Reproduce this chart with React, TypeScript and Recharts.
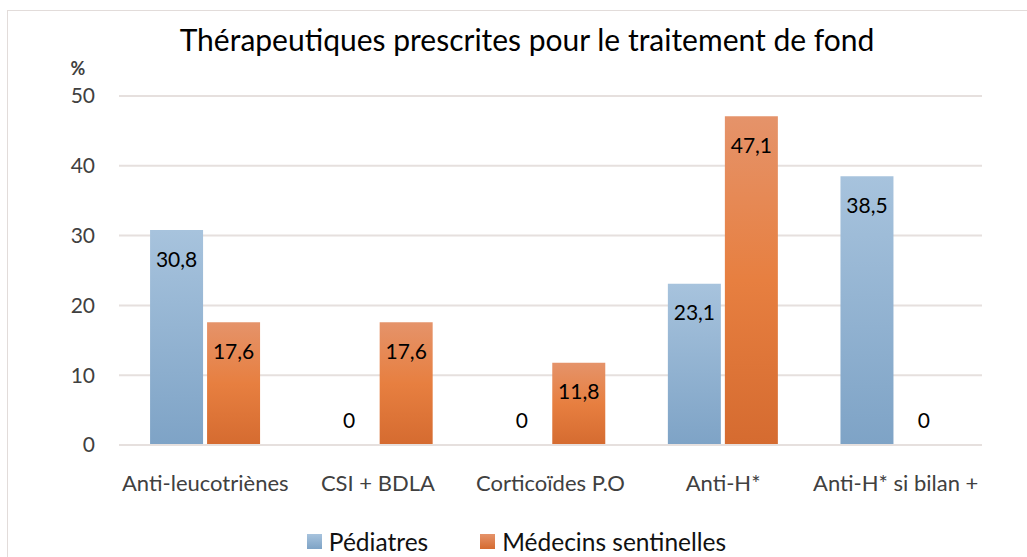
import { BarChart, Bar, XAxis, YAxis, CartesianGrid, Legend, Label, Rectangle } from "recharts"

const categories = ["Anti-leucotriènes", "CSI + BDLA", "Corticoïdes P.O", "Anti-H*", "Anti-H* si bilan +"]
const pediatres = [30.8, 0, 0, 23.1, 38.5]
const medecins = [17.6, 17.6, 11.8, 47.1, 0]
const yTicks = [0, 10, 20, 30, 40, 50]

const data = categories.map((name, i) => ({ name, pediatres: pediatres[i], medecins: medecins[i] }))

const FONT = "Lato, 'Open Sans', sans-serif"

const fmt = (v: number) => String(v).replace(".", ",")

// draws the bar and its value label (also for zero-height bars)
function makeShape(key: "pediatres" | "medecins") {
  return (props: any) => {
    const { x, y, width, height, fill, payload } = props
    const value = payload[key]
    const cx = x + width / 2
    const base = y + height
    const ty = value === 0 ? base - 26 : y + 28
    return (
      <g>
        {height > 0 && <Rectangle x={x} y={y} width={width} height={height} fill={fill} />}
        <text x={cx} y={ty} textAnchor="middle" dominantBaseline="central" fontSize={21} fill="#000" fontFamily={FONT}>
          {fmt(value)}
        </text>
      </g>
    )
  }
}

function LegendContent() {
  const items = [
    { label: "Pédiatres", bg: "linear-gradient(#a7c3dd, #7ea3c6)" },
    { label: "Médecins sentinelles", bg: "linear-gradient(#e5936a, #d56b30)" },
  ]
  return (
    <div style={{ display: "flex", justifyContent: "center", alignItems: "center", gap: 52, paddingLeft: 51, fontFamily: FONT }}>
      {items.map((it) => (
        <div key={it.label} style={{ display: "flex", alignItems: "center", gap: 7 }}>
          <span style={{ width: 15, height: 15, background: it.bg, display: "inline-block" }} />
          <span style={{ fontSize: 24.5, color: "#111" }}>{it.label}</span>
        </div>
      ))}
    </div>
  )
}

export default function App() {
  return (
    <div style={{ position: "absolute", left: 0, top: 0, width: 1027, height: 557, overflow: "hidden", background: "#fff" }}>
      <div style={{ position: "absolute", left: 7, top: 10, width: 1100, height: 600, border: "1px solid #e2dcda" }} />
      <div
        style={{
          position: "absolute",
          left: 0,
          width: 1054,
          top: 21,
          textAlign: "center",
          fontFamily: FONT,
          fontSize: 30,
          color: "#000",
        }}
      >
        Thérapeutiques prescrites pour le traitement de fond
      </div>
      <BarChart
        width={1027}
        height={557}
        data={data}
        margin={{ top: 96, right: 45, left: 0, bottom: 0 }}
        barGap={4}
        barCategoryGap="18%"
        style={{ position: "absolute", left: 0, top: 0 }}
      >
        <defs>
          <linearGradient id="gBlue" x1="0" y1="0" x2="0" y2="1">
            <stop offset="0%" stopColor="#a7c3dd" />
            <stop offset="100%" stopColor="#7ea3c6" />
          </linearGradient>
          <linearGradient id="gOrange" x1="0" y1="0" x2="0" y2="1">
            <stop offset="0%" stopColor="#e5936a" />
            <stop offset="50%" stopColor="#e77f40" />
            <stop offset="100%" stopColor="#d56b30" />
          </linearGradient>
        </defs>
        <CartesianGrid vertical={false} stroke="#e6e0de" strokeWidth={2} />
        <XAxis
          dataKey="name"
          height={82}
          tickLine={false}
          axisLine={{ stroke: "#e6e0de", strokeWidth: 2 }}
          tickMargin={24}
          tick={{ fontSize: 22, fill: "#404040", fontFamily: FONT }}
          interval={0}
        />
        <YAxis
          width={119}
          domain={[0, 50]}
          ticks={yTicks}
          tickLine={false}
          axisLine={false}
          tickMargin={18}
          tick={{ fontSize: 21, fill: "#404040", fontFamily: FONT }}
        >
          <Label
            content={(p: any) => (
              <text x={78} y={p.viewBox.y - 28} textAnchor="middle" dominantBaseline="central" fontSize={18} fontWeight="bold" fill="#404040" fontFamily={FONT}>
                %
              </text>
            )}
          />
        </YAxis>
        <Legend verticalAlign="bottom" height={30} content={<LegendContent />} />
        <Bar dataKey="pediatres" name="Pédiatres" fill="url(#gBlue)" isAnimationActive={false} shape={makeShape("pediatres")} />
        <Bar dataKey="medecins" name="Médecins sentinelles" fill="url(#gOrange)" isAnimationActive={false} shape={makeShape("medecins")} />
      </BarChart>
    </div>
  )
}
